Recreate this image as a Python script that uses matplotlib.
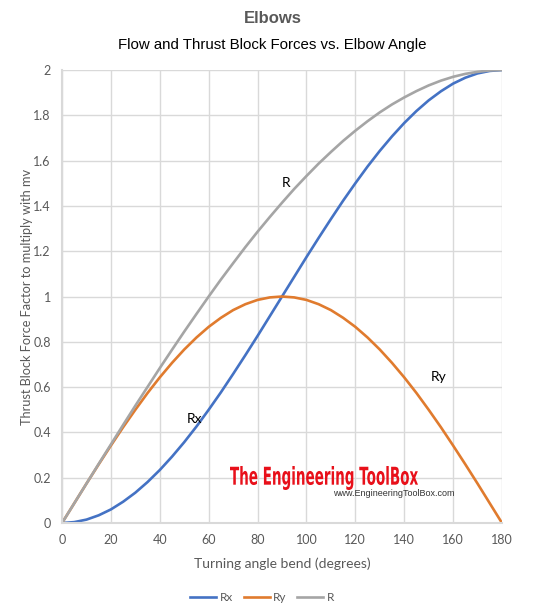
import numpy as np
import matplotlib
matplotlib.use('Agg')
import matplotlib.pyplot as plt
from matplotlib.textpath import TextPath
from matplotlib.patches import PathPatch
from matplotlib.font_manager import FontProperties
from matplotlib.transforms import Affine2D

# turning angle (degrees)
angle = [0, 5, 10, 15, 20, 25, 30, 35, 40, 45, 50, 55, 60, 65, 70, 75, 80, 85, 90,
         95, 100, 105, 110, 115, 120, 125, 130, 135, 140, 145, 150, 155, 160, 165, 170, 175, 180]

rx = [0, 0.004, 0.015, 0.034, 0.060, 0.094, 0.134, 0.181, 0.234, 0.293, 0.357, 0.426, 0.5,
      0.577, 0.658, 0.741, 0.826, 0.913, 1.0, 1.087, 1.174, 1.259, 1.342, 1.423, 1.5, 1.574,
      1.643, 1.707, 1.766, 1.819, 1.866, 1.906, 1.940, 1.966, 1.985, 1.996, 2.0]

ry = [0, 0.087, 0.174, 0.259, 0.342, 0.423, 0.5, 0.574, 0.643, 0.707, 0.766, 0.819, 0.866,
      0.906, 0.940, 0.966, 0.985, 0.996, 1.0, 0.996, 0.985, 0.966, 0.940, 0.906, 0.866, 0.819,
      0.766, 0.707, 0.643, 0.574, 0.5, 0.423, 0.342, 0.259, 0.174, 0.087, 0]

r = [0, 0.087, 0.174, 0.261, 0.347, 0.433, 0.518, 0.601, 0.684, 0.765, 0.845, 0.923, 1.0,
     1.075, 1.147, 1.218, 1.286, 1.351, 1.414, 1.475, 1.532, 1.587, 1.638, 1.687, 1.732, 1.774,
     1.813, 1.848, 1.879, 1.907, 1.932, 1.953, 1.970, 1.983, 1.992, 1.998, 2.0]

xticks = [0, 20, 40, 60, 80, 100, 120, 140, 160, 180]
yticks = [0, 0.2, 0.4, 0.6, 0.8, 1, 1.2, 1.4, 1.6, 1.8, 2]
ytick_labels = ['0', '0.2', '0.4', '0.6', '0.8', '1', '1.2', '1.4', '1.6', '1.8', '2']

# curve labels (x, y)
labels = {'R': (91.5, 1.5), 'Rx': (54, 0.46), 'Ry': (154, 0.645)}

grey = '#595959'
gridc = '#d9d9d9'

fig = plt.figure(figsize=[5.45, 6.12], dpi=100)
ax = fig.add_axes([0.1138, 0.1454, 0.8073, 0.7402])

ax.plot(angle, rx, color='#4472C4', linewidth=1.9, label='Rx')
ax.plot(angle, ry, color='#E07B2E', linewidth=1.9, label='Ry')
ax.plot(angle, r, color='#A5A5A5', linewidth=1.9, label='R')

ax.set_xlim(0, 180)
ax.set_ylim(0, 2)
ax.set_xticks(xticks)
ax.set_yticks(yticks)
ax.set_yticklabels(ytick_labels)
ax.tick_params(length=0, labelsize=9, colors=grey, pad=8)
for lab in ax.get_xticklabels() + ax.get_yticklabels():
    lab.set_fontfamily('Lato')
ax.grid(True, color=gridc, linewidth=1)
ax.set_axisbelow(True)
for s in ['top', 'right']:
    ax.spines[s].set_visible(False)
ax.spines['left'].set_color(gridc)
ax.spines['bottom'].set_color(gridc)
ax.spines['left'].set_linewidth(1.5)
ax.spines['bottom'].set_linewidth(1.5)

ax.set_xlabel('Turning angle bend (degrees)', fontsize=10, color=grey, family='Lato', labelpad=8)
ax.set_ylabel('Thrust Block Force Factor to multiply with mv', fontsize=9.2, color=grey,
              family='Lato', labelpad=0)

for k, (x, y) in labels.items():
    ax.text(x, y, k, fontsize=10, family='Lato', color='black', ha='center', va='center')

fig.text(0.5, 0.970, 'Elbows', ha='center', va='center', fontsize=12, fontweight='bold',
         color=grey, family='Liberation Sans')
fig.text(0.5, 0.926, 'Flow and Thrust Block Forces vs. Elbow Angle', ha='center', va='center',
         fontsize=10.8, color='black', family='Liberation Sans')

# watermark, squeezed text drawn as a path
tp = TextPath((0, 0), 'The Engineering ToolBox', size=10,
              prop=FontProperties(family='DejaVu Sans', weight='bold'))
ext = tp.get_extents()
left, right = 230 / 545, 418 / 545
bottom, top = (612 - 490) / 612, (612 - 466) / 612
tr = (Affine2D().translate(-ext.x0, -ext.y0)
      .scale((right - left) / ext.width, (top - bottom) / ext.height)
      .translate(left, bottom) + fig.transFigure)
fig.add_artist(PathPatch(tp, transform=tr, facecolor='#e8101a', edgecolor='none'))
fig.text(0.611, 0.194, 'www.EngineeringToolBox.com', ha='left', va='center', fontsize=6.5,
         color='#333333', family='Liberation Sans')

leg = fig.legend(loc='center', bbox_to_anchor=(0.481, 0.023), ncol=3, frameon=False,
                 handlelength=2.2, columnspacing=0.9, handletextpad=0.3,
                 prop={'family': 'Lato', 'size': 8.5})
for t in leg.get_texts():
    t.set_color(grey)

fig.savefig('out.png', dpi=100)
